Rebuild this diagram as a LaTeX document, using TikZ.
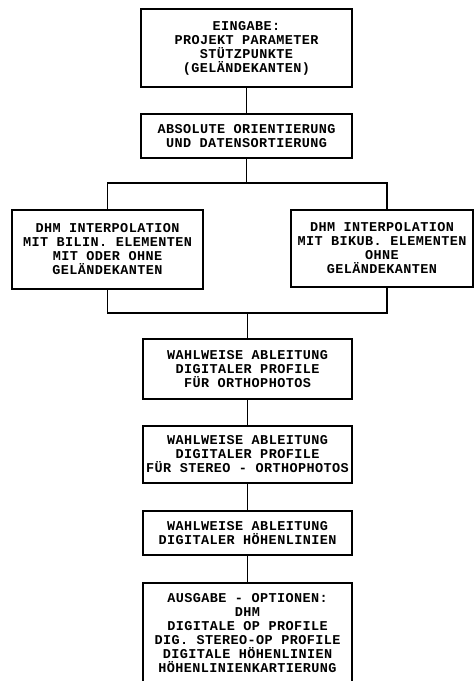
\documentclass[tikz,border=0pt]{standalone}
\usepackage{fontspec}
\newfontfamily\printfont[LetterSpace=3]{Liberation Mono}
\begin{document}
\begin{tikzpicture}[x=1pt, y=-1pt, line width=1.5pt,
    box/.style={draw, align=center, inner sep=0pt, font=\printfont\bfseries\fontsize{13.5}{14}\selectfont},
    link/.style={draw, line width=1.5pt}]
\useasboundingbox (0,0) rectangle (474,681);
\node[box, minimum width=211pt, minimum height=78pt] (in) at (246.5,48) {EINGABE:\\PROJEKT PARAMETER\\STÜTZPUNKTE\\(GELÄNDEKANTEN)};
\node[box, minimum width=211pt, minimum height=44pt] (ori) at (246.5,136) {ABSOLUTE ORIENTIERUNG\\UND DATENSORTIERUNG};
\node[box, minimum width=191pt, minimum height=79pt] (bilin) at (107.5,249.5) {DHM INTERPOLATION\\MIT BILIN. ELEMENTEN\\MIT ODER OHNE\\GELÄNDEKANTEN};
\node[box, minimum width=182pt, minimum height=77pt] (bikub) at (382,248.5) {DHM INTERPOLATION\\MIT BIKUB. ELEMENTEN\\OHNE\\GELÄNDEKANTEN};
\node[box, minimum width=209pt, minimum height=60pt] (prof) at (247.5,369) {WAHLWEISE ABLEITUNG\\DIGITALER PROFILE\\FÜR ORTHOPHOTOS};
\node[box, minimum width=209pt, minimum height=57pt] (stereo) at (247.5,454.5) {WAHLWEISE ABLEITUNG\\DIGITALER PROFILE\\FÜR STEREO - ORTHOPHOTOS};
\node[box, minimum width=209pt, minimum height=44pt] (hoehen) at (247.5,533) {WAHLWEISE ABLEITUNG\\DIGITALER HÖHENLINIEN};
\node[box, minimum width=209pt, minimum height=100pt, anchor=north] (aus) at (247.5,582) {AUSGABE - OPTIONEN:\\DHM\\DIGITALE OP PROFILE\\DIG. STEREO-OP PROFILE\\DIGITALE HÖHENLINIEN\\HÖHENLINIENKARTIERUNG};
\coordinate (split) at (246.5,183);
\coordinate (merge) at (247.5,313);
\draw[link] (in) -- (ori);
\draw[link] (ori) -- (split);
\draw[link] (bilin.north) |- (split) -| ([xshift=5pt]bikub.north);
\draw[link] (bilin.south) |- (merge) -| ([xshift=5pt]bikub.south);
\draw[link] (merge) -- (prof);
\draw[link] (prof) -- (stereo);
\draw[link] (stereo) -- (hoehen);
\draw[link] (hoehen) -- (aus);
\end{tikzpicture}
\end{document}
